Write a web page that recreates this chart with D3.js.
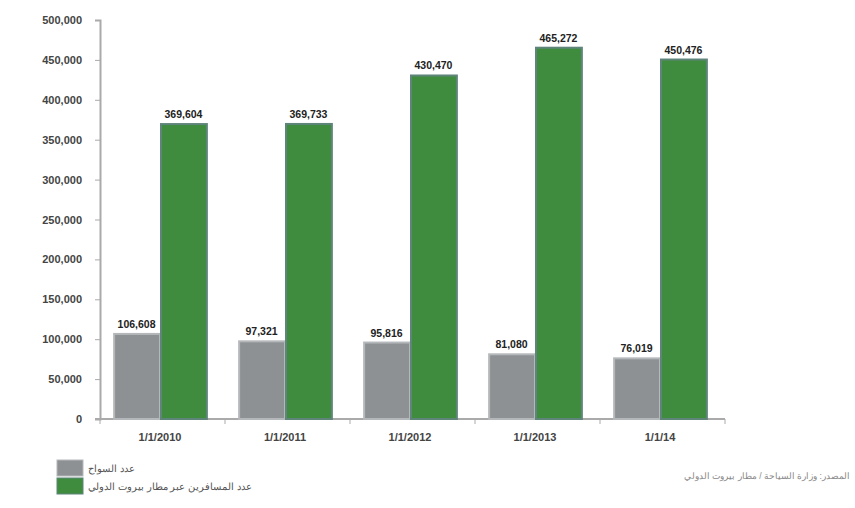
<!DOCTYPE html>
<html><head><meta charset="utf-8">
<script src="https://cdn.jsdelivr.net/npm/d3@7"></script>
<style>body{margin:0;background:#fff}svg{display:block}text{font-family:"Liberation Sans",Arial,sans-serif}</style>
</head><body><svg id="c" width="855" height="508"></svg>
<script>
const categories = ["1/1/2010","1/1/2011","1/1/2012","1/1/2013","1/1/14"];
const tourists = [106608, 97321, 95816, 81080, 76019];
const travelers = [369604, 369733, 430470, 465272, 450476];
const yTicks = [0,50000,100000,150000,200000,250000,300000,350000,400000,450000,500000];
const seriesNames = ["عدد السواح","عدد المسافرين عبر مطار بيروت الدولي"];
const sourceText = "المصدر: وزارة السياحة / مطار بيروت الدولي";

const svg = d3.select("#c");
const L=100, R=725, T=20, B=419;
const x = d3.scaleBand().domain(categories).range([L,R]).paddingInner(0.25).paddingOuter(0.125).align(0.42);
const y = d3.scaleLinear().domain([0,500000]).range([B,T]);
const fmt = d3.format(",");

// y axis
const ya = svg.append("g").attr("transform",`translate(${L},0)`)
  .call(d3.axisLeft(y).tickValues(yTicks).tickFormat(fmt).tickSize(5).tickPadding(13));
ya.select(".domain").attr("stroke","#aaa").attr("stroke-width",2);
ya.selectAll(".tick line").attr("stroke","#aaa");
ya.selectAll("text").attr("font-size",11).attr("font-weight","bold").attr("fill","#444");

// x axis
const xb = d3.scaleLinear().domain([0,categories.length]).range([L,R]);
const xa = svg.append("g").attr("transform",`translate(0,${B})`);
xa.append("line").attr("x1",L-5).attr("x2",R).attr("stroke","#aaa").attr("stroke-width",2);
xa.selectAll("line.t").data(d3.range(categories.length+1)).join("line").attr("class","t")
  .attr("x1",d=>xb(d)).attr("x2",d=>xb(d)).attr("y1",0).attr("y2",5).attr("stroke","#aaa");
xa.selectAll("text").data(categories).join("text")
  .attr("x",d=>x(d)+x.bandwidth()/2).attr("y",22).attr("text-anchor","middle")
  .attr("font-size",11).attr("font-weight","bold").attr("fill","#444").text(d=>d);

const inner = d3.scaleBand().domain([0,1]).range([0,x.bandwidth()]);
const colors = ["#8e9194","#3f8c3f"];
const strokes = ["#b5b8ba","#5f857a"];
[tourists,travelers].forEach((vals,si)=>{
  const g = svg.append("g");
  g.selectAll("rect").data(vals).join("rect")
    .attr("x",(d,i)=>x(categories[i])+inner(si)+1)
    .attr("y",d=>y(d))
    .attr("width",inner.bandwidth()-1)
    .attr("height",d=>B-y(d))
    .attr("fill",colors[si]).attr("stroke",strokes[si]).attr("stroke-width",2);
  g.selectAll("text").data(vals).join("text")
    .attr("x",(d,i)=>x(categories[i])+inner(si)+inner.bandwidth()/2)
    .attr("y",d=>y(d)-6).attr("text-anchor","middle")
    .attr("font-size",10.5).attr("font-weight","bold").attr("fill","#222").text(d=>fmt(d));
});

// legend
const lg = svg.append("g");
seriesNames.forEach((n,i)=>{
  lg.append("rect").attr("x",57).attr("y",460+i*18).attr("width",26).attr("height",16)
    .attr("fill",colors[i]).attr("stroke",strokes[i]);
  lg.append("text").attr("x",88).attr("y",472+i*18).attr("font-size",10).attr("fill","#555")
    .attr("direction","rtl").attr("text-anchor","end").text(n);
});
svg.append("text").attr("x",850).attr("y",479).attr("font-size",8.5).attr("fill","#888")
  .attr("direction","rtl").attr("text-anchor","start").text(sourceText);
</script></body></html>
